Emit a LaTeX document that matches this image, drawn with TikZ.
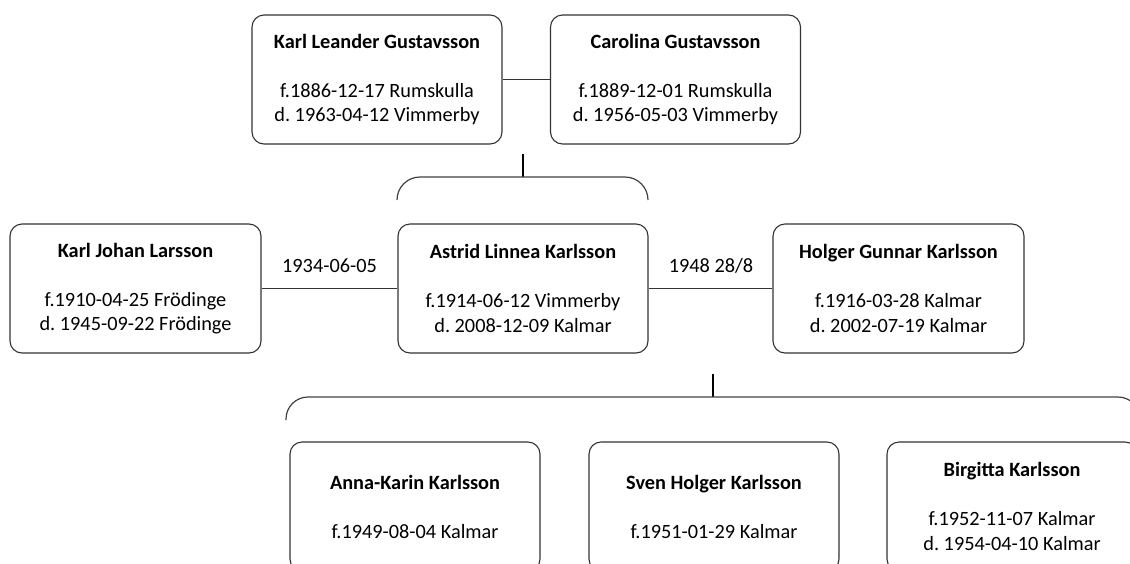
\documentclass[tikz,border=0pt]{standalone}
\usepackage{fontspec}
\setmainfont{Carlito}
\frenchspacing
\begin{document}
\begin{tikzpicture}[x=1pt,y=-1pt,
  person/.style={draw=black!80, line width=1.1pt, rounded corners=12pt,
    minimum width=250pt, minimum height=129pt, inner sep=0pt, align=center,
    font=\fontsize{20.3}{24.5}\selectfont},
  conn/.style={draw=black!80, line width=1.3pt},
  stem/.style={draw=black, line width=1.8pt},
  brace/.style={draw=black!75, line width=1.2pt},
  lbl/.style={font=\fontsize{20.3}{24.5}\selectfont, inner sep=0pt, anchor=base}]
\useasboundingbox (0,0) rectangle (1130,563);
% top row
\node[person] (kl) at (377,79.5) {\textbf{Karl Leander Gustavsson}\\[24.5pt]f.1886-12-17 Rumskulla\\d. 1963-04-12 Vimmerby};
\node[person] (cg) at (675.5,79.5) {\textbf{Carolina Gustavsson}\\[24.5pt]f.1889-12-01 Rumskulla\\d. 1956-05-03 Vimmerby};
\draw[conn] (kl.east) -- (cg.west);
% middle row
\node[person, minimum width=251pt] (kj) at (135.5,288.5) {\textbf{Karl Johan Larsson}\\[24.5pt]f.1910-04-25 Frödinge\\d. 1945-09-22 Frödinge};
\node[person] (al) at (523,288.5) {\textbf{Astrid Linnea Karlsson}\\[24.5pt]f.1914-06-12 Vimmerby\\d. 2008-12-09 Kalmar};
\node[person, minimum width=251pt] (hg) at (898.5,288.5) {\textbf{Holger Gunnar Karlsson}\\[24.5pt]f.1916-03-28 Kalmar\\d. 2002-07-19 Kalmar};
\draw[conn] (kj.east) -- (al.west);
\draw[conn] (al.east) -- (hg.west);
\node[lbl] (m1) at (329.5,272) {1934-06-05};
\node[lbl] (m2) at (711,272) {1948 28/8};
% bottom row
\node[person] (ak) at (415,506.5) {\textbf{Anna-Karin Karlsson}\\[24.5pt]f.1949-08-04 Kalmar};
\node[person] (sh) at (714,506.5) {\textbf{Sven Holger Karlsson}\\[24.5pt]f.1951-01-29 Kalmar};
\node[person] (bk) at (1012,506.5) {\textbf{Birgitta Karlsson}\\[24.5pt]f.1952-11-07 Kalmar\\d. 1954-04-10 Kalmar};
% parent stem and bracket (top)
\coordinate (s1a) at (523,154);
\coordinate (s1b) at (523,177);
\coordinate (b1l) at (397,200);
\coordinate (b1r) at (648,200);
\draw[stem] (s1a) -- (s1b);
\draw[brace, rounded corners=23pt] (b1l) |- (s1b) -| (b1r);
% stem and bracket (bottom)
\coordinate (s2a) at (713,374);
\coordinate (s2b) at (713,397);
\coordinate (b2l) at (286,420);
\coordinate (b2r) at (1140,420);
\draw[stem] (s2a) -- (s2b);
\draw[brace, rounded corners=22pt] (b2l) |- (s2b) -| (b2r);
\end{tikzpicture}
\end{document}
